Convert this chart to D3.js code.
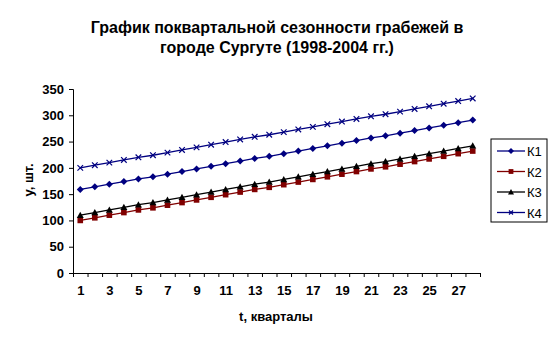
<!DOCTYPE html>
<html>
<head>
<meta charset="utf-8">
<script src="https://cdn.jsdelivr.net/npm/d3@7"></script>
<style>
  body { margin: 0; background: #fff; }
  svg { font-family: Arial, "Liberation Sans", sans-serif; }
</style>
</head>
<body>
<svg id="chart" width="555" height="344"></svg>
<script>
// quarters t = 1..28
const quarters = d3.range(1, 29);
const xTickLabels = [1, 3, 5, 7, 9, 11, 13, 15, 17, 19, 21, 23, 25, 27];
const yTicks = [0, 50, 100, 150, 200, 250, 300, 350];

const k1 = [159, 164, 169, 174, 179, 183, 188, 193, 198, 203, 208, 213, 218, 222,
            227, 232, 237, 242, 247, 252, 257, 261, 266, 271, 276, 281, 286, 291];
const k2 = [100, 105, 110, 115, 120, 124, 129, 134, 139, 144, 149, 154, 159, 163,
            168, 173, 178, 183, 188, 193, 198, 202, 207, 212, 217, 222, 227, 232];
const k3 = [110, 115, 120, 125, 130, 134, 139, 144, 149, 154, 159, 164, 169, 173,
            178, 183, 188, 193, 198, 203, 208, 212, 217, 222, 227, 232, 237, 242];
const k4 = [200, 205, 210, 215, 220, 224, 229, 234, 239, 244, 249, 254, 259, 263,
            268, 273, 278, 283, 288, 293, 298, 302, 307, 312, 317, 322, 327, 332];

const series = [
  { name: 'К1', values: k1, color: '#000080', marker: 'diamond' },
  { name: 'К2', values: k2, color: '#800000', marker: 'square' },
  { name: 'К3', values: k3, color: '#000000', marker: 'triangle' },
  { name: 'К4', values: k4, color: '#000080', marker: 'cross' }
];

const svg = d3.select('#chart');
const plotL = 73, plotR = 480, plotT = 89, plotB = 273;

const x = d3.scaleLinear().domain([0.5, 28.5]).range([plotL, plotR]);
const y = d3.scaleLinear().domain([0, 350]).range([plotB, plotT]);

// title
svg.append('text')
  .attr('x', 277).attr('y', 33)
  .attr('text-anchor', 'middle')
  .style('font-size', '16px').style('font-weight', 'bold')
  .text('График поквартальной сезонности грабежей в');
svg.append('text')
  .attr('x', 277).attr('y', 53)
  .attr('text-anchor', 'middle')
  .style('font-size', '16px').style('font-weight', 'bold')
  .text('городе Сургуте (1998-2004 гг.)');

// y axis
const yAxis = svg.append('g')
  .attr('transform', `translate(${plotL},0)`)
  .call(d3.axisLeft(y).tickValues(yTicks).tickSize(4).tickPadding(5));
yAxis.selectAll('text').style('font-size', '13px').style('font-weight', 'bold')
  .style('font-family', 'Arial, "Liberation Sans", sans-serif').attr('fill', '#000');
yAxis.select('.domain').attr('stroke', '#000');

// x axis: ticks between categories, labels on odd quarters
const boundaries = d3.range(0.5, 29, 1);
const xAxis = svg.append('g')
  .attr('transform', `translate(0,${plotB})`)
  .call(d3.axisBottom(x).tickValues(boundaries).tickSize(4).tickFormat(''));
xAxis.select('.domain').attr('stroke', '#000');
const xLabels = svg.append('g')
  .attr('transform', `translate(0,${plotB})`)
  .call(d3.axisBottom(x).tickValues(xTickLabels).tickSize(0).tickPadding(13));
xLabels.select('.domain').remove();
xLabels.selectAll('text').style('font-size', '13px').style('font-weight', 'bold')
  .style('font-family', 'Arial, "Liberation Sans", sans-serif').attr('fill', '#000');

// axis titles
svg.append('text')
  .attr('transform', 'translate(33,180) rotate(-90)')
  .attr('text-anchor', 'middle')
  .style('font-size', '13px').style('font-weight', 'bold')
  .text('у, шт.');
svg.append('text')
  .attr('x', 276).attr('y', 321)
  .attr('text-anchor', 'middle')
  .style('font-size', '13px').style('font-weight', 'bold')
  .text('t, кварталы');

function drawMarker(g, type, color, size) {
  if (type === 'diamond') {
    g.append('path').attr('d', `M0,${-size}L${size},0L0,${size}L${-size},0Z`).attr('fill', color);
  } else if (type === 'square') {
    g.append('rect').attr('x', -size * 0.8).attr('y', -size * 0.8)
      .attr('width', size * 1.6).attr('height', size * 1.6).attr('fill', color);
  } else if (type === 'triangle') {
    g.append('path').attr('d', `M0,${-size}L${size},${size * 0.8}L${-size},${size * 0.8}Z`).attr('fill', color);
  } else {
    const s = size * 0.8;
    g.append('path').attr('d', `M${-s},${-s}L${s},${s}M${-s},${s}L${s},${-s}`)
      .attr('stroke', color).attr('stroke-width', 1.2);
  }
}

const line = d3.line().x((d, i) => x(quarters[i])).y(d => y(d));

series.forEach(s => {
  svg.append('path')
    .datum(s.values)
    .attr('d', line)
    .attr('fill', 'none')
    .attr('stroke', s.color)
    .attr('stroke-width', 1.3);
  svg.append('g').selectAll('g')
    .data(s.values)
    .join('g')
    .attr('transform', (d, i) => `translate(${x(quarters[i])},${y(d)})`)
    .each(function () { drawMarker(d3.select(this), s.marker, s.color, 3.5); });
});

// legend
const legend = svg.append('g').attr('transform', 'translate(491,139)');
legend.append('rect')
  .attr('width', 56).attr('height', 83)
  .attr('fill', '#fff').attr('stroke', '#000');
series.forEach((s, i) => {
  const row = legend.append('g').attr('transform', `translate(0,${12 + i * 20.5})`);
  row.append('line').attr('x1', 6).attr('x2', 34).attr('stroke', s.color).attr('stroke-width', 1.3);
  const m = row.append('g').attr('transform', 'translate(20,0)');
  drawMarker(m, s.marker, s.color, s.marker === 'cross' ? 2.5 : 3);
  row.append('text').attr('x', 36).attr('y', 5)
    .style('font-size', '13px').text(s.name);
});
</script>
</body>
</html>
